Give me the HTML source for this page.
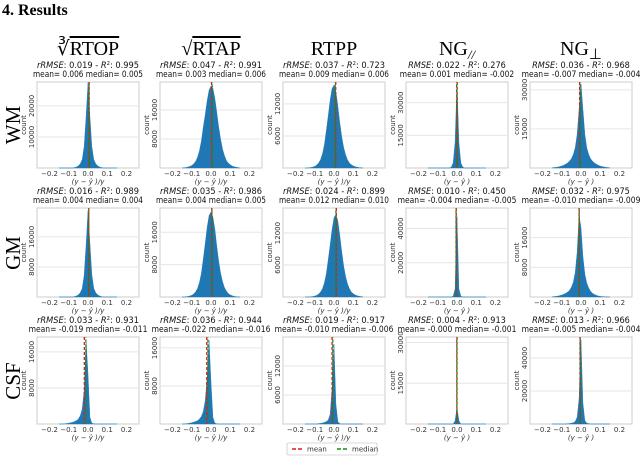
<!DOCTYPE html>
<html><head><meta charset="utf-8">
<style>
body{margin:0;background:#fff;}
svg{display:block;}
.tk{font-family:"DejaVu Sans","Liberation Sans",sans-serif;font-size:7px;fill:#333;}
.sub{font-family:"DejaVu Sans","Liberation Sans",sans-serif;font-size:8.6px;fill:#111;}
.ser{font-family:"Liberation Serif",serif;fill:#000;}
</style></head>
<body>
<svg id="fig" width="640" height="468" viewBox="0 0 640 468">
<text class="ser" x="2" y="15" font-size="16" font-weight="bold">4.  Results</text>
</svg>
<script>
const colTitles = ["RTOP","RTAP","RTPP","NG","NG"];
const rowNames = ["WM","GM","CSF"];
const binCenters = [-0.15,-0.14,-0.13,-0.12,-0.11,-0.10,-0.09,-0.08,-0.07,-0.06,-0.05,-0.04,-0.03,-0.02,-0.01,0,0.01,0.02,0.03,0.04,0.05,0.06,0.07,0.08,0.09,0.10,0.11,0.12,0.13,0.14,0.15];
const wmRtop  =[0,0,0,0,0,0,0,0,0.5,1.2,2.5,5,10,25,60,100,60,25,10,5,2.5,1.2,0.5,0,0,0,0,0,0,0,0];
const wmRtap  =[0,0.3,0.6,1.2,2,3,5,8,13,21,33,50,65,82,95,100,97,85,68,50,35,23,15,9,6,4,2.5,1.5,1,0.5,0];
const wmRtpp  =[0,0,0.3,0.6,1.2,2,3.5,6,10,17,28,45,63,82,96,100,92,75,55,38,25,16,10,6,4,2.5,1.5,1,0.5,0.3,0];
const wmNgpar =[0,0,0,0,0,0,0,0,0,0,0,0,1,6,30,100,30,6,1,0,0,0,0,0,0,0,0,0,0,0,0];
const wmNgperp=[0.3,0.5,0.8,1.2,1.7,2.4,3.3,4.5,6,8,11,16,24,40,70,100,70,40,24,16,11,8,6,4.5,3.3,2.4,1.7,1.2,0.8,0.5,0.3];
const gmRtop  =[0,0,0,0,0,0,0,0,0.5,1.2,2.5,5,10,25,60,100,62,26,10,5,2.5,1.2,0.5,0,0,0,0,0,0,0,0];
const gmRtap  =[0,0,0.3,0.6,1.2,2,3.5,6,10,17,28,45,63,82,96,100,94,80,60,42,28,18,11,7,4,2.5,1.5,0.8,0.4,0,0];
const gmRtpp  =[0,0,0,0.3,0.6,1.2,2,3.5,6,10,17,28,45,63,82,96,100,92,75,55,38,25,16,10,6,4,2.5,1.5,1,0.5,0.3];
const gmNgpar =[0,0,0,0,0,0,0,0,0,0,0,0,0,1,10,100,10,1,0,0,0,0,0,0,0,0,0,0,0,0,0];
const gmNgperp=[0.3,0.5,0.8,1.2,1.7,2.4,3.3,4.5,6,8,12,18,30,55,100,85,50,28,17,11,7,4.5,3,2,1.3,0.8,0.5,0.3,0.2,0,0];
const csfRtop =[0,0,0,0.3,0.6,1,1.5,2,3,4,6,10,18,40,100,60,8,1,0.3,0,0,0,0,0,0,0,0,0,0,0,0];
const csfRtap =[0,0,0.3,0.6,1,1.5,2.2,3,4,6,9,15,28,55,100,50,8,1,0.3,0,0,0,0,0,0,0,0,0,0,0,0];
const csfRtpp =[0,0,0,0,0,0,0,0.5,0.8,1.2,2,3,5,12,45,100,25,3,0.5,0,0,0,0,0,0,0,0,0,0,0,0];
const csfNgpar=[0,0,0,0,0,0,0,0,0,0,0,0,0,0,20,100,20,0,0,0,0,0,0,0,0,0,0,0,0,0,0];
const csfNgperp=[0,0,0,0,0,0,0,0,0.3,0.5,1,1.5,3,8,30,100,25,4,1,0.5,0,0,0,0,0,0,0,0,0,0,0];
const shapes = [[wmRtop,wmRtap,wmRtpp,wmNgpar,wmNgperp],[gmRtop,gmRtap,gmRtpp,gmNgpar,gmNgperp],[csfRtop,csfRtap,csfRtpp,csfNgpar,csfNgperp]];
const peakCounts = [[27500,22600,15500,39000,32300],[23000,21000,15500,47000,22000],[18600,17600,16500,6000,51000]];
const yMax = [[27700,23700,16100,39500,33000],[23700,22000,16700,52000,24000],[19300,18300,18000,32000,52700]];
const yTicks = [[[10000,20000],[8000,16000],[6000,12000],[15000,30000],[15000,30000]],
                [[8000,16000],[8000,16000],[6000,12000],[20000,40000],[8000,16000]],
                [[8000,16000],[8000,16000],[6000,12000],[15000,30000],[20000,40000]]];
const errNames = ["rRMSE","rRMSE","rRMSE","RMSE","RMSE"];
const errVals = [["0.019","0.047","0.037","0.022","0.036"],["0.016","0.035","0.024","0.010","0.032"],["0.033","0.036","0.019","0.004","0.013"]];
const r2Vals = [["0.995","0.991","0.723","0.276","0.968"],["0.989","0.986","0.899","0.450","0.975"],["0.931","0.944","0.917","0.913","0.966"]];
const meanVals = [[0.006,0.003,0.009,0.001,-0.007],[0.004,0.004,0.012,-0.004,-0.010],[-0.019,-0.022,-0.010,-0.000,-0.005]];
const medianVals = [[0.005,0.006,0.006,-0.002,-0.004],[0.004,0.005,0.010,-0.005,-0.009],[-0.011,-0.016,-0.006,-0.001,-0.004]];
const meanText = [["0.006","0.003","0.009","0.001","-0.007"],["0.004","0.004","0.012","-0.004","-0.010"],["-0.019","-0.022","-0.010","-0.000","-0.005"]];
const medianText = [["0.005","0.006","0.006","-0.002","-0.004"],["0.004","0.005","0.010","-0.005","-0.009"],["-0.011","-0.016","-0.006","-0.001","-0.004"]];
const xTicks = [-0.2,-0.1,0.0,0.1,0.2];
const xTickLabels = ["\u22120.2","\u22120.1","0.0","0.1","0.2"];

const NS="http://www.w3.org/2000/svg";
const svg=document.getElementById('fig');
function mk(tag,attrs,parent){const e=document.createElementNS(NS,tag);for(const k in attrs)e.setAttribute(k,attrs[k]);(parent||svg).appendChild(e);return e;}
const colL=[37,160,283,406,530], W=102;
const rowT=[82,208,337], rowH=[86,89,87];
const X0=-0.265,X1=0.265;

const titleHTML=[
 '<tspan>\u221B</tspan><tspan text-decoration="overline">RTOP</tspan>',
 '<tspan>\u221A</tspan><tspan text-decoration="overline">RTAP</tspan>',
 'RTPP',
 'NG<tspan font-size="13" font-style="italic" dy="4">//</tspan>',
 'NG<tspan font-size="15" dy="4">\u22A5</tspan>'];
for(let c=0;c<5;c++){
  const t=mk('text',{class:'ser',x:colL[c]+W/2,y:55,'font-size':20,'text-anchor':'middle'});
  
  
  t.innerHTML=titleHTML[c];
}
const rowY=[125,253,381];
for(let r=0;r<3;r++){
  const t=mk('text',{class:'ser',x:0,y:0,'font-size':21,'text-anchor':'middle',transform:`translate(20,${rowY[r]}) rotate(-90)`});
  
  
  t.textContent=rowNames[r];
}
for(let r=0;r<3;r++){
  for(let c=0;c<5;c++){
    const L=colL[c],T=rowT[r],H=rowH[r],B=T+H;
    const xs=v=>L+(v-X0)/(X1-X0)*W;
    const ys=v=>B-v/yMax[r][c]*H;
    const g=mk('g',{});
    
    
    const l1=(errNames[c]+': '+errVals[r][c]+' - R2: '+r2Vals[r][c]).length;
    const s1=mk('text',{class:'sub',x:L+W/2,y:T-14,'text-anchor':'middle',textLength:l1*4.25,lengthAdjust:'spacingAndGlyphs'},g);
    
    
    s1.innerHTML=`<tspan font-style="italic">${errNames[c]}</tspan>: ${errVals[r][c]} - <tspan font-style="italic">R</tspan><tspan font-size="5.5" dy="-3">2</tspan><tspan dy="3">: ${r2Vals[r][c]}</tspan>`;
    const txt2=`mean= ${meanText[r][c]} median= ${medianText[r][c]}`;
    const s2=mk('text',{class:'sub',x:L+W/2,y:T-5,'text-anchor':'middle',textLength:txt2.length*4.4,lengthAdjust:'spacingAndGlyphs'},g);
    
    
    s2.textContent=txt2;
    const bg=mk('rect',{x:L,y:T,width:W,height:H,fill:'#fff',stroke:'#ccc','stroke-width':1},g);
    
    
    yTicks[r][c].forEach(v=>{
      const y=ys(v);
      const gl=mk('line',{x1:L,x2:L+W,y1:y,y2:y,stroke:'#e6e6e6','stroke-width':1},g);
      
      
      const tl=mk('text',{class:'tk',x:0,y:0,'text-anchor':'middle',transform:`translate(${L-3},${y}) rotate(-90)`},g);
      
      
      tl.textContent=v;
    });
    const yl=mk('text',{class:'tk',x:0,y:0,'font-size':6.5,'text-anchor':'middle',transform:`translate(${L-11},${T+H/2}) rotate(-90)`},g);
    
    
    yl.textContent='count';
    const sh=shapes[r][c];
    let d=`M${xs(binCenters[0]).toFixed(2)},${B}`;
    for(let i=0;i<binCenters.length;i++){
      const cnt=peakCounts[r][c]*sh[i]/100;
      d+=` L${xs(binCenters[i]).toFixed(2)},${ys(cnt).toFixed(2)}`;
    }
    d+=` L${xs(binCenters[binCenters.length-1]).toFixed(2)},${B} Z`;
    const hp=mk('path',{d:d,fill:'#1f77b4',stroke:'#1f77b4','stroke-width':0.4},g);
    
    
    const ml=mk('line',{x1:xs(meanVals[r][c]),x2:xs(meanVals[r][c]),y1:T,y2:B,stroke:'#e31a1c','stroke-width':1.3,'stroke-dasharray':'3,2'},g);
    
    
    const dl=mk('line',{x1:xs(medianVals[r][c]),x2:xs(medianVals[r][c]),y1:T,y2:B,stroke:'#1a8a1a','stroke-width':1.3,'stroke-dasharray':'3,2','stroke-dashoffset':2.5},g);
    
    
    xTicks.forEach((v,i)=>{
      const tl=mk('text',{class:'tk',x:xs(v),y:B+8,'text-anchor':'middle'},g);
      
      
      tl.textContent=xTickLabels[i];
    });
    const xl=mk('text',{class:'tk',x:L+W/2,y:B+16,'text-anchor':'middle','font-style':'italic'},g);
    
    
    xl.textContent=c<3?'(y \u2212 \u0177 )/y':'(y \u2212 \u0177 )';
  }
}
const lg=mk('g',{});


mk('rect',{x:287,y:443,width:90,height:12,fill:'#fff',stroke:'#ccc','stroke-width':0.8,rx:1.5},lg);
const le1=mk('line',{x1:292,x2:304,y1:449,y2:449,stroke:'#e31a1c','stroke-width':1.5,'stroke-dasharray':'4,2'},lg);


const lt1=mk('text',{class:'tk','font-size':6.5,x:307,y:451.5},lg);


lt1.textContent='mean';
const le2=mk('line',{x1:337,x2:349,y1:449,y2:449,stroke:'#1a8a1a','stroke-width':1.5,'stroke-dasharray':'4,2'},lg);


const lt2=mk('text',{class:'tk','font-size':6.5,x:352,y:451.5},lg);


lt2.textContent='median';
</script>
</body></html>
